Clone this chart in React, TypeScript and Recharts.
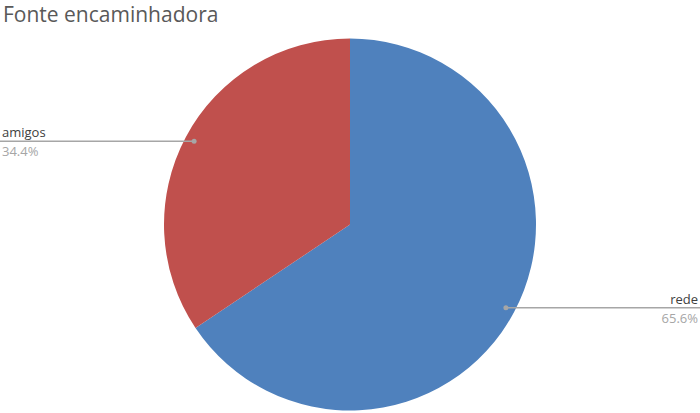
import { PieChart, Pie, Cell } from 'recharts';

// --- Data ---
const categories = ['rede', 'amigos'];
const values = [65.6, 34.4];
const colors = ['#4F81BD', '#C0504D'];

const data = categories.map((name, i) => ({ name, value: values[i] }));

const RADIAN = Math.PI / 180;
const W = 700;
const H = 413;

// callout label: dot inside slice, horizontal line to chart edge, name above, percent below
function renderLabel(props: any) {
    const { cx, cy, midAngle, outerRadius, index } = props;
    const r = outerRadius * 0.95;
    const x = cx + r * Math.cos(-midAngle * RADIAN);
    const y = cy + r * Math.sin(-midAngle * RADIAN);
    const right = x > cx;
    const edge = right ? W : 0;
    const tx = right ? W - 2 : 2;
    const anchor = right ? 'end' : 'start';
    return (
        <g key={`lbl-${index}`}>
            <line x1={x} y1={y} x2={edge} y2={y} stroke="#A6A6A6" strokeWidth={1.5} />
            <circle cx={x} cy={y} r={2.5} fill="#A6A6A6" />
            <text x={tx} y={y - 4} textAnchor={anchor} fontSize={13} fill="#404040"
                fontFamily="'Open Sans', sans-serif">
                {data[index].name}
            </text>
            <text x={tx} y={y + 15} textAnchor={anchor} fontSize={13} fill="#A6A6A6"
                fontFamily="'Open Sans', sans-serif">
                {values[index].toFixed(1)}%
            </text>
        </g>
    );
}

export default function App() {
    return (
        <div style={{ position: 'absolute', left: 0, top: 0, width: W, height: H, background: '#fff' }}>
            <div style={{
                position: 'absolute', left: 3, top: 0, fontSize: 21, color: '#595959',
                fontFamily: "'Open Sans', sans-serif", lineHeight: '28px'
            }}>
                Fonte encaminhadora
            </div>
            <PieChart width={W} height={H} margin={{ top: 0, right: 0, bottom: 0, left: 0 }}>
                <Pie
                    data={data}
                    dataKey="value"
                    cx={350}
                    cy={224.5}
                    innerRadius={0}
                    outerRadius={186}
                    startAngle={90}
                    endAngle={-270}
                    stroke="none"
                    labelLine={false}
                    label={renderLabel}
                    isAnimationActive={false}
                >
                    {data.map((entry, i) => (
                        <Cell key={`cell-${entry.name}`} fill={colors[i]} />
                    ))}
                </Pie>
            </PieChart>
        </div>
    );
}
